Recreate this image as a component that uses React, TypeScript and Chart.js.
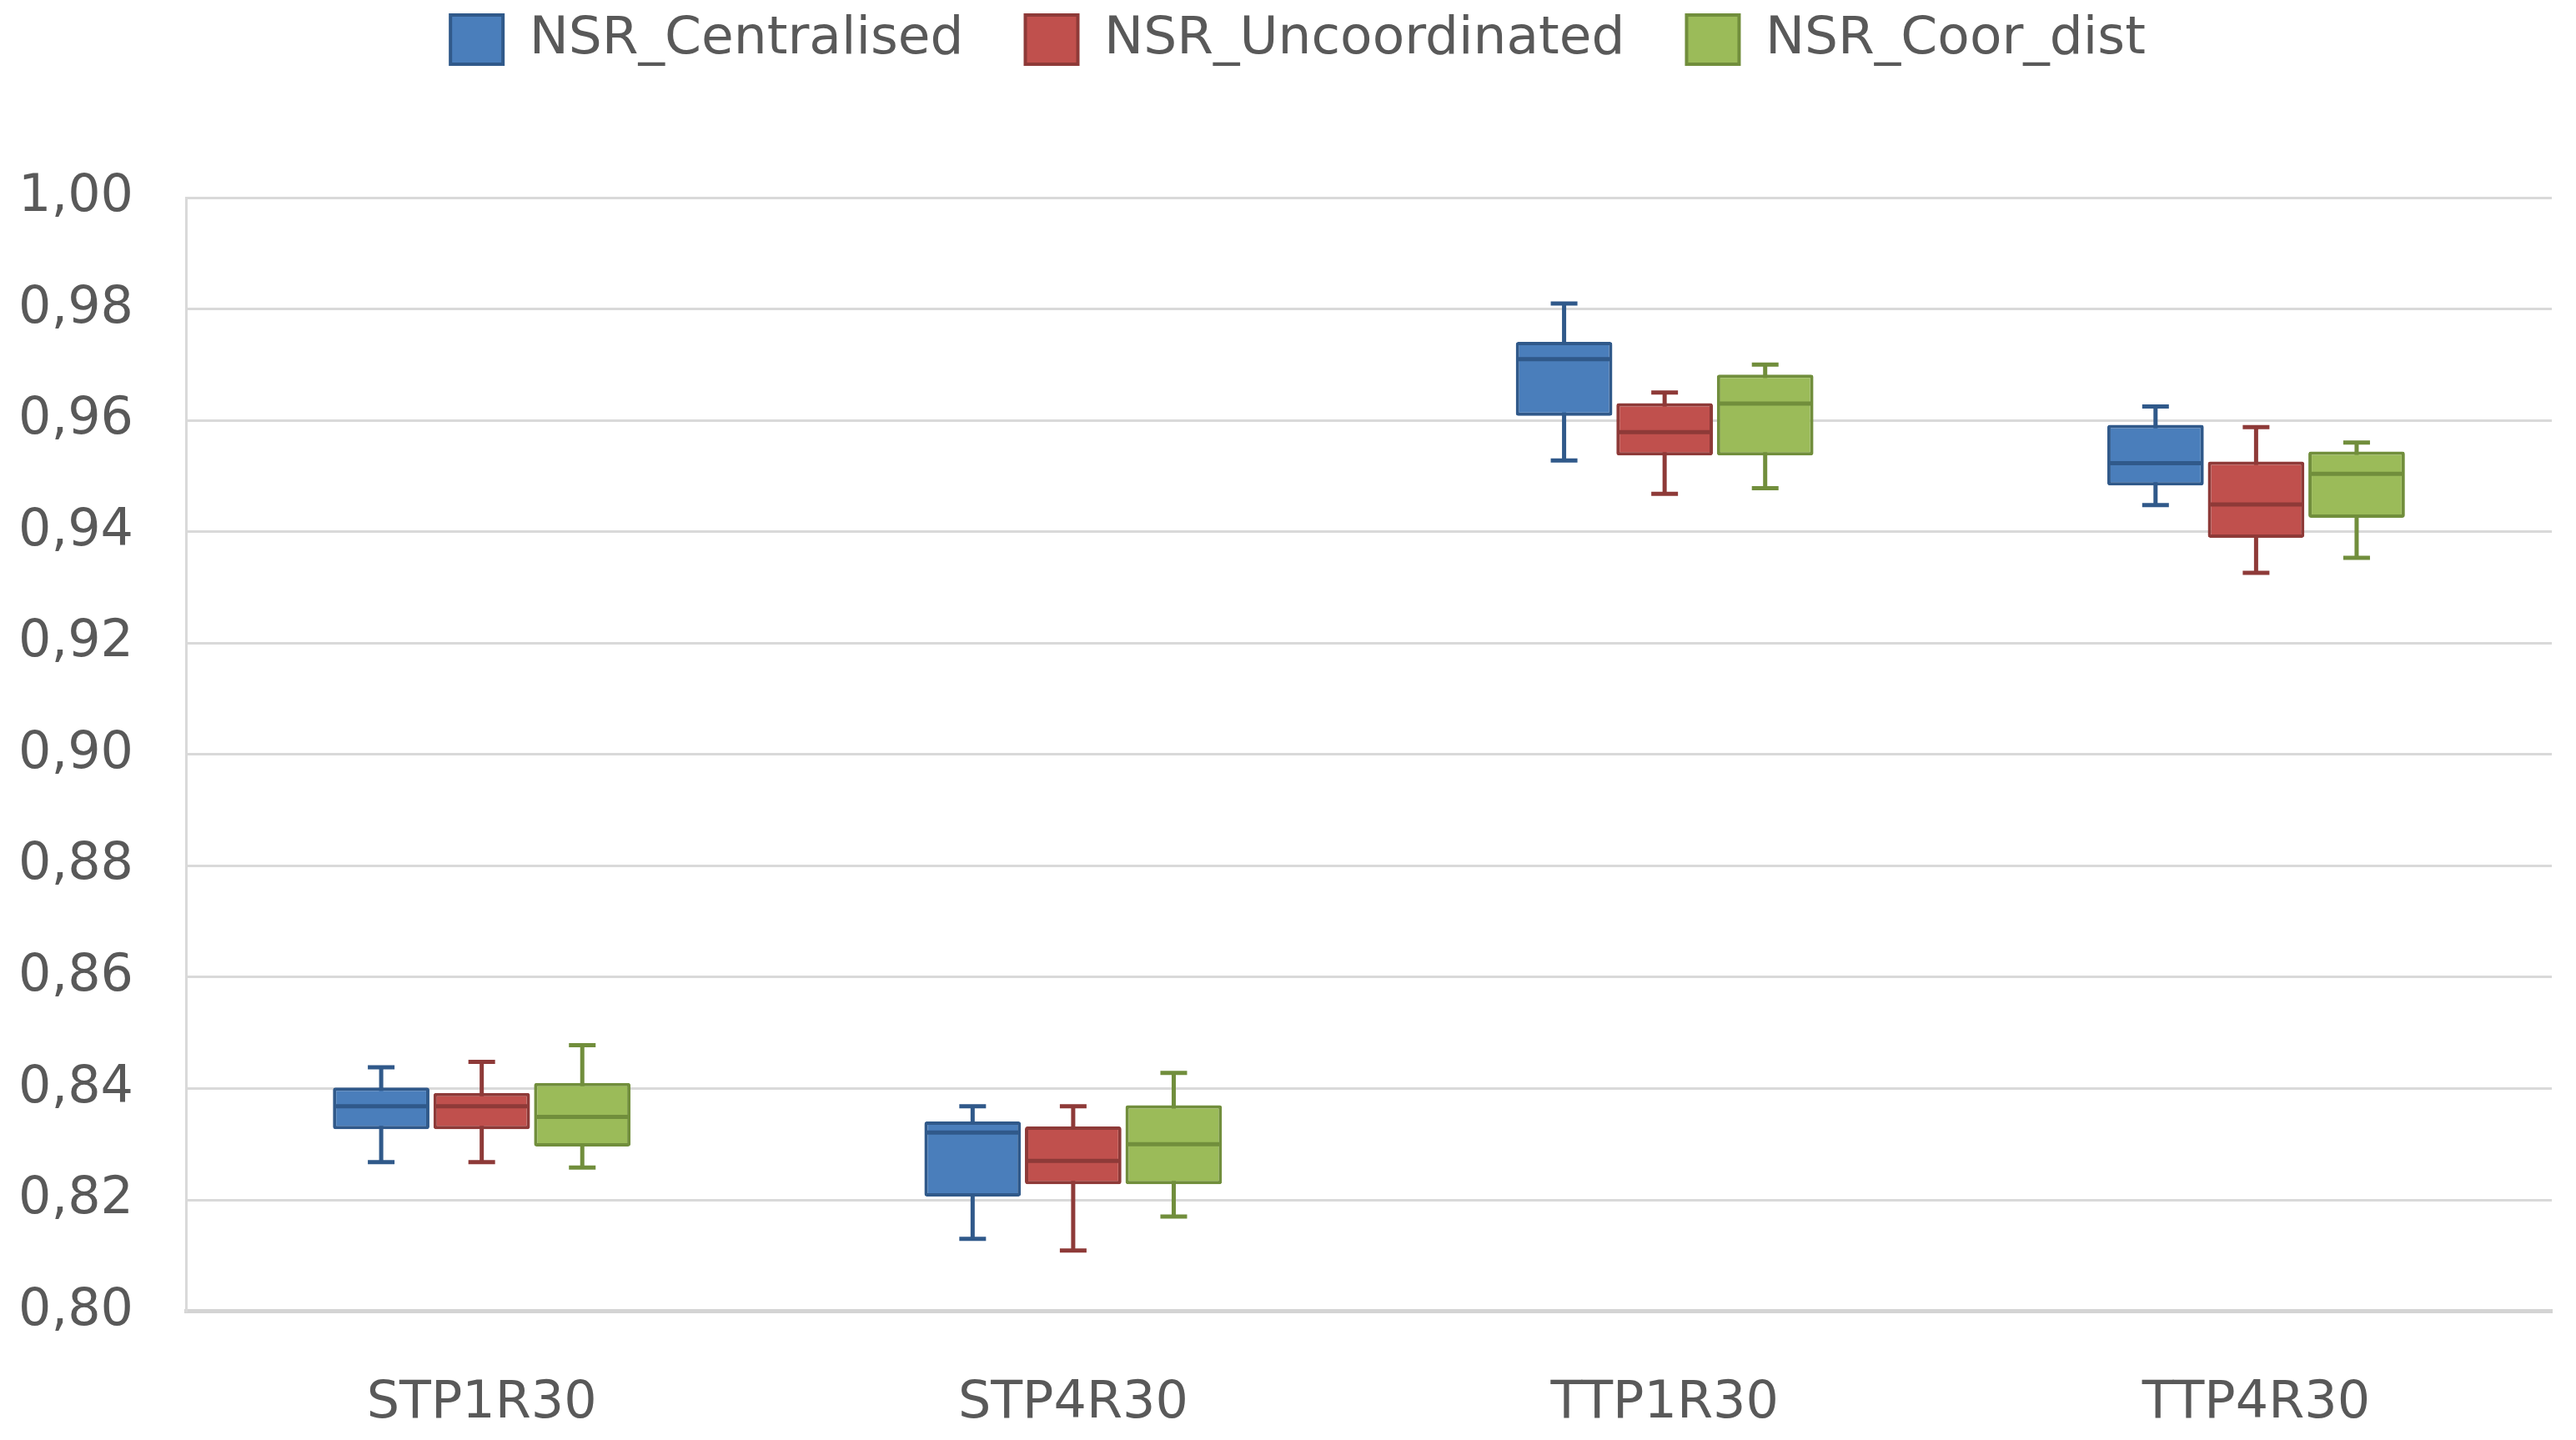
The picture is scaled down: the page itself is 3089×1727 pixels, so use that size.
import React, { useEffect, useRef } from "react";
import { Chart, registerables } from "chart.js";

Chart.register(...registerables);

const categories = ["STP1R30", "STP4R30", "TTP1R30", "TTP4R30"];

const centralisedMin = [0.8268, 0.813, 0.9528, 0.9448];
const centralisedQ1 = [0.8327, 0.8206, 0.9608, 0.9483];
const centralisedMedian = [0.8368, 0.8321, 0.971, 0.9523];
const centralisedQ3 = [0.8402, 0.8341, 0.9741, 0.9592];
const centralisedMax = [0.8438, 0.8368, 0.981, 0.9625];

const uncoordinatedMin = [0.8268, 0.8109, 0.9468, 0.9326];
const uncoordinatedQ1 = [0.8327, 0.8228, 0.9537, 0.9389];
const uncoordinatedMedian = [0.8368, 0.827, 0.9579, 0.9449];
const uncoordinatedQ3 = [0.8392, 0.8332, 0.9631, 0.9526];
const uncoordinatedMax = [0.8448, 0.8368, 0.965, 0.9588];

const coorDistMin = [0.8258, 0.817, 0.9478, 0.9353];
const coorDistQ1 = [0.8296, 0.8228, 0.9537, 0.9425];
const coorDistMedian = [0.8349, 0.83, 0.963, 0.9504];
const coorDistQ3 = [0.841, 0.837, 0.9682, 0.9544];
const coorDistMax = [0.8478, 0.8428, 0.97, 0.956];

const seriesNames = ["NSR_Centralised", "NSR_Uncoordinated", "NSR_Coor_dist"];
const fills = ["#4A7EBB", "#C0504D", "#9BBB59"];
const strokes = ["#30598A", "#8E3A38", "#718E3C"];

const FONT = "'DejaVu Sans', sans-serif";

const legendSpacer = {
  id: "legendSpacer",
  beforeInit(chart: any) {
    const legend = chart.legend;
    if (!legend) return;
    const originalFit = legend.fit;
    legend.fit = function fit() {
      originalFit.bind(legend)();
      this.height += 148;
    };
  },
  afterLayout(chart: any) {
    const legend = chart.legend;
    if (!legend) return;
    legend.left += 47;
    legend.right += 47;
  },
};

const boxPlugin = {
  id: "boxWhiskers",
  beforeDatasetsDraw(chart: any) {
    const y = chart.scales.y;
    const ctx = chart.ctx;
    chart.data.datasets.forEach((ds: any, i: number) => {
      const meta = chart.getDatasetMeta(i);
      meta.data.forEach((el: any, j: number) => {
        const { x } = el.getProps(["x"], true);
        const yMin = y.getPixelForValue(ds.whiskerMin[j]);
        const yMax = y.getPixelForValue(ds.whiskerMax[j]);
        const cap = 16;
        ctx.save();
        ctx.strokeStyle = ds.borderColor;
        ctx.lineWidth = 5;
        ctx.beginPath();
        ctx.moveTo(x, yMin);
        ctx.lineTo(x, yMax);
        ctx.moveTo(x - cap, yMin);
        ctx.lineTo(x + cap, yMin);
        ctx.moveTo(x - cap, yMax);
        ctx.lineTo(x + cap, yMax);
        ctx.stroke();
        ctx.restore();
      });
    });
  },
  afterDatasetsDraw(chart: any) {
    const y = chart.scales.y;
    const ctx = chart.ctx;
    chart.data.datasets.forEach((ds: any, i: number) => {
      const meta = chart.getDatasetMeta(i);
      meta.data.forEach((el: any, j: number) => {
        const { x, width } = el.getProps(["x", "width"], true);
        const ym = y.getPixelForValue(ds.median[j]);
        ctx.save();
        ctx.strokeStyle = ds.borderColor;
        ctx.lineWidth = 5;
        ctx.beginPath();
        ctx.moveTo(x - width / 2 + 2, ym);
        ctx.lineTo(x + width / 2 - 2, ym);
        ctx.stroke();
        ctx.restore();
      });
    });
  },
};

export default function App() {
  const ref = useRef<HTMLCanvasElement>(null);

  useEffect(() => {
    const q1s = [centralisedQ1, uncoordinatedQ1, coorDistQ1];
    const q3s = [centralisedQ3, uncoordinatedQ3, coorDistQ3];
    const mins = [centralisedMin, uncoordinatedMin, coorDistMin];
    const maxs = [centralisedMax, uncoordinatedMax, coorDistMax];
    const meds = [centralisedMedian, uncoordinatedMedian, coorDistMedian];

    const datasets: any[] = seriesNames.map((name, i) => ({
      label: name,
      data: categories.map((_, j) => [q1s[i][j], q3s[i][j]]),
      backgroundColor: fills[i],
      borderColor: strokes[i],
      borderWidth: 4,
      borderSkipped: false,
      borderRadius: 3,
      categoryPercentage: 0.51,
      barPercentage: 0.96,
      whiskerMin: mins[i],
      whiskerMax: maxs[i],
      median: meds[i],
    }));

    const chart = new Chart(ref.current!, {
      type: "bar",
      data: { labels: categories, datasets },
      plugins: [legendSpacer, boxPlugin],
      options: {
        responsive: false,
        animation: false,
        devicePixelRatio: 1,
        layout: { padding: { left: -41, right: 29, top: -58, bottom: -60 } },
        plugins: {
          tooltip: { enabled: false },
          legend: {
            position: "top",
            labels: {
              boxWidth: 63,
              boxHeight: 59,
              padding: 74,
              color: "#595959",
              font: { family: FONT, size: 63 },
            },
          },
        },
        scales: {
          x: {
            grid: { display: false },
            border: { display: true, color: "#D4D4D4", width: 5 },
            ticks: {
              color: "#595959",
              font: { family: FONT, size: 62 },
              padding: 66,
            },
          },
          y: {
            min: 0.8,
            max: 1.0,
            grid: { color: "#D9D9D9", lineWidth: 3, drawTicks: false },
            border: { display: true, color: "#D9D9D9", width: 3 },
            ticks: {
              stepSize: 0.02,
              color: "#595959",
              font: { family: FONT, size: 62 },
              padding: 63,
              callback: (v: any) => Number(v).toFixed(2).replace(".", ","),
            },
          },
        },
      },
    });
    return () => chart.destroy();
  }, []);

  return (
    <div style={{ position: "fixed", left: 0, top: 0, width: 3089, height: 1727, background: "#fff" }}>
      <canvas ref={ref} width={3089} height={1727} />
    </div>
  );
}
